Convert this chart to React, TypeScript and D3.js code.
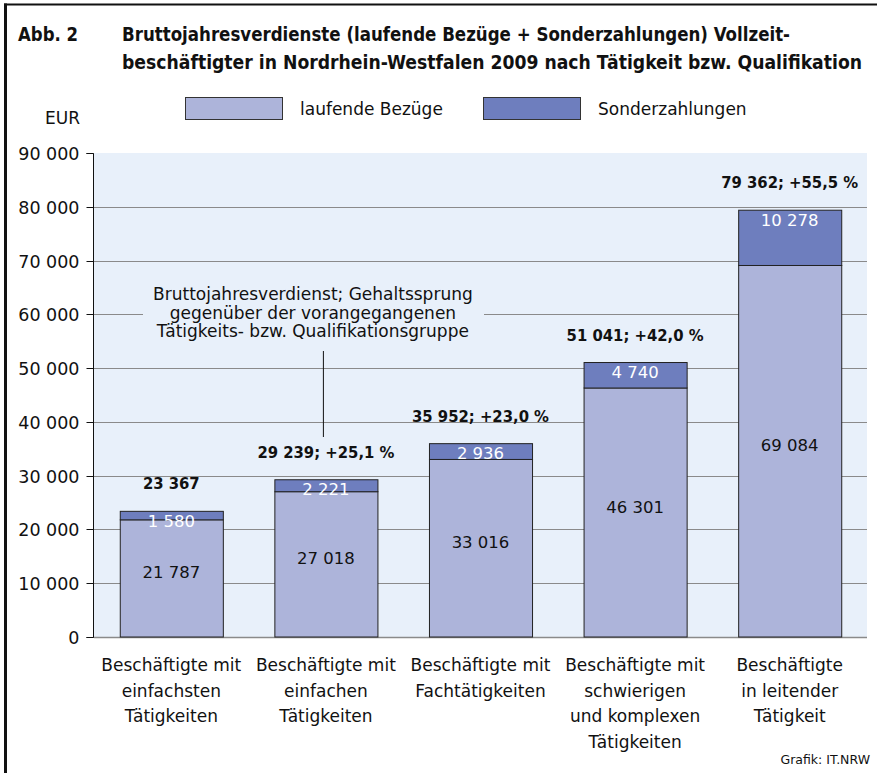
import { useEffect, useRef } from 'react'
import * as d3 from 'd3'

const categories = [
  ['Beschäftigte mit', 'einfachsten', 'Tätigkeiten'],
  ['Beschäftigte mit', 'einfachen', 'Tätigkeiten'],
  ['Beschäftigte mit', 'Fachtätigkeiten'],
  ['Beschäftigte mit', 'schwierigen', 'und komplexen', 'Tätigkeiten'],
  ['Beschäftigte', 'in leitender', 'Tätigkeit'],
]
const laufendeBezuege = [21787, 27018, 33016, 46301, 69084]
const sonderzahlungen = [1580, 2221, 2936, 4740, 10278]
const totals = [23367, 29239, 35952, 51041, 79362]
const gehaltssprung = [null, 25.1, 23.0, 42.0, 55.5]
const yTicks = [0, 10000, 20000, 30000, 40000, 50000, 60000, 70000, 80000, 90000]
const titleLines = [
  'Bruttojahresverdienste (laufende Bezüge + Sonderzahlungen) Vollzeit-',
  'beschäftigter in Nordrhein-Westfalen 2009 nach Tätigkeit bzw. Qualifikation',
]
const annotationLines = [
  'Bruttojahresverdienst; Gehaltssprung',
  'gegenüber der vorangegangenen',
  'Tätigkeits- bzw. Qualifikationsgruppe',
]

const FONT = '"DejaVu Sans", "Open Sans", sans-serif'
const FONT_COND = '"DejaVu Sans Condensed", "DejaVu Sans", sans-serif'
const COL_LIGHT = '#adb4da'
const COL_DARK = '#6e7ebe'
const COL_BG = '#e8f0fa'
const COL_GRID = '#8a8a8a'

const de = d3.formatLocale({ decimal: ',', thousands: ' ', grouping: [3], currency: ['', ' €'] })
const fmtInt = de.format(',d')
const fmtPct = de.format('.1f')

export default function App() {
  const svgRef = useRef<SVGSVGElement>(null)

  useEffect(() => {
    if (!svgRef.current) return
    const svg = d3.select(svgRef.current)
    svg.selectAll('*').remove()

    const W = 877
    const H = 773
    const plot = { left: 94, right: 867, top: 153, bottom: 637 }

    svg.attr('width', W).attr('height', H)

    // frame: top + left rule
    svg.append('line')
      .attr('x1', 4).attr('x2', W).attr('y1', 4.5).attr('y2', 4.5)
      .style('stroke', '#111').style('stroke-width', 2)
    svg.append('line')
      .attr('x1', 5.5).attr('x2', 5.5).attr('y1', 3.5).attr('y2', H)
      .style('stroke', '#111').style('stroke-width', 3)

    // title
    svg.append('text')
      .attr('x', 18).attr('y', 41)
      .attr('textLength', 60).attr('lengthAdjust', 'spacingAndGlyphs')
      .style('font-family', FONT_COND)
      .style('font-weight', 'bold').style('font-size', '19px').style('fill', '#111')
      .text('Abb. 2')
    const titleWidths = [668, 740]
    titleLines.forEach((t, i) => {
      svg.append('text')
        .attr('x', 122).attr('y', 41 + i * 28)
        .attr('textLength', titleWidths[i]).attr('lengthAdjust', 'spacingAndGlyphs')
        .style('font-family', FONT_COND)
        .style('font-weight', 'bold').style('font-size', '19px').style('fill', '#111')
        .text(t)
    })

    // legend
    const legend = [
      { label: 'laufende Bezüge', color: COL_LIGHT, x: 185 },
      { label: 'Sonderzahlungen', color: COL_DARK, x: 483 },
    ]
    legend.forEach(l => {
      svg.append('rect')
        .attr('x', l.x + 0.5).attr('y', 97.5).attr('width', 97).attr('height', 22)
        .style('fill', l.color).style('stroke', '#333').style('stroke-width', 1)
      svg.append('text')
        .attr('x', l.x + 115).attr('y', 115)
        .style('font-family', FONT).style('font-size', '17px').style('fill', '#111')
        .text(l.label)
    })

    // scales
    const x = d3.scaleBand<number>()
      .domain(d3.range(categories.length))
      .range([plot.left, plot.right])
      .paddingInner(1 / 3)
      .paddingOuter(1 / 6)
    const y = d3.scaleLinear()
      .domain([0, 90000])
      .range([plot.bottom, plot.top])

    // plot background
    svg.append('rect')
      .attr('x', plot.left).attr('y', plot.top)
      .attr('width', plot.right - plot.left).attr('height', plot.bottom - plot.top)
      .style('fill', COL_BG)

    // gridlines
    svg.append('g').selectAll('line')
      .data(yTicks.filter(d => d > 0 && d < 90000))
      .enter().append('line')
      .attr('x1', plot.left).attr('x2', plot.right)
      .attr('y1', d => Math.round(y(d)) + 0.5).attr('y2', d => Math.round(y(d)) + 0.5)
      .style('stroke', COL_GRID).style('stroke-width', 1)
    svg.append('line')
      .attr('x1', plot.left).attr('x2', plot.right)
      .attr('y1', y(0) + 0.5).attr('y2', y(0) + 0.5)
      .style('stroke', COL_GRID).style('stroke-width', 1.5)

    // y axis
    const yAxis = svg.append('g')
      .attr('transform', `translate(${plot.left - 0.5},0)`)
      .call(d3.axisLeft(y).tickValues(yTicks).tickSize(7).tickPadding(7).tickFormat(d => fmtInt(d as number)))
    yAxis.select('.domain').attr('d', `M-7,${y(90000) + 0.5}H0V${y(0) + 0.5}H-7`).style('stroke', '#111')
    yAxis.selectAll('.tick line').style('stroke', '#111')
    yAxis.selectAll('.tick text')
      .style('font-family', FONT).style('font-size', '17.5px').style('fill', '#111')
      .attr('dy', '0.36em')
    yAxis.selectAll('.tick').attr('transform', (d: any) => `translate(0,${Math.round(y(d)) + 0.5})`)

    svg.append('text')
      .attr('x', 80).attr('y', 124).attr('text-anchor', 'end')
      .style('font-family', FONT).style('font-size', '17px').style('fill', '#111')
      .text('EUR')

    // annotation (drawn before bars so bg cuts the gridline)
    const annCx = x(1)! + x.bandwidth() / 2 - 13
    svg.append('rect')
      .attr('x', 143).attr('y', 284).attr('width', 341).attr('height', 58)
      .style('fill', COL_BG)
    annotationLines.forEach((t, i) => {
      svg.append('text')
        .attr('x', annCx).attr('y', 300 + i * 18.5)
        .attr('text-anchor', 'middle')
        .style('font-family', FONT).style('font-size', '17px').style('fill', '#111')
        .text(t)
    })
    svg.append('line')
      .attr('x1', x(1)! + x.bandwidth() / 2 - 2.5).attr('x2', x(1)! + x.bandwidth() / 2 - 2.5)
      .attr('y1', 351).attr('y2', 437)
      .style('stroke', '#111').style('stroke-width', 1)

    // bars
    const bars = svg.append('g').selectAll('g')
      .data(d3.range(categories.length))
      .enter().append('g')

    bars.append('rect')
      .attr('x', i => x(i)! + 0.5)
      .attr('y', i => y(laufendeBezuege[i]))
      .attr('width', x.bandwidth())
      .attr('height', i => y(0) - y(laufendeBezuege[i]))
      .style('fill', COL_LIGHT).style('stroke', '#222').style('stroke-width', 1)
    bars.append('rect')
      .attr('x', i => x(i)! + 0.5)
      .attr('y', i => y(laufendeBezuege[i] + sonderzahlungen[i]))
      .attr('width', x.bandwidth())
      .attr('height', i => y(laufendeBezuege[i]) - y(laufendeBezuege[i] + sonderzahlungen[i]))
      .style('fill', COL_DARK).style('stroke', '#222').style('stroke-width', 1)

    // value labels
    bars.append('text')
      .attr('x', i => x(i)! + x.bandwidth() / 2)
      .attr('y', i => (y(0) + y(laufendeBezuege[i])) / 2)
      .attr('text-anchor', 'middle')
      .style('font-family', FONT).style('font-size', '16.5px').style('fill', '#111')
      .text(i => fmtInt(laufendeBezuege[i]))
    bars.append('text')
      .attr('x', i => x(i)! + x.bandwidth() / 2)
      .attr('y', i => y(laufendeBezuege[i] + sonderzahlungen[i]) + 15.5)
      .attr('text-anchor', 'middle')
      .style('font-family', FONT).style('font-size', '16.5px').style('fill', '#fff')
      .text(i => fmtInt(sonderzahlungen[i]))
    bars.append('text')
      .attr('x', i => x(i)! + x.bandwidth() / 2)
      .attr('y', i => y(totals[i]) - 22)
      .attr('text-anchor', 'middle')
      .style('font-family', FONT_COND).style('font-size', '16.5px').style('font-weight', 'bold').style('fill', '#111')
      .text(i => gehaltssprung[i] == null
        ? fmtInt(totals[i])
        : `${fmtInt(totals[i])}; +${fmtPct(gehaltssprung[i] as number)} %`)

    // category labels
    bars.each(function (i) {
      const g = d3.select(this)
      categories[i].forEach((line, k) => {
        g.append('text')
          .attr('x', x(i)! + x.bandwidth() / 2)
          .attr('y', 671 + k * 25.5)
          .attr('text-anchor', 'middle')
          .style('font-family', FONT).style('font-size', '17px').style('fill', '#111')
          .text(line)
      })
    })

    // source
    svg.append('text')
      .attr('x', 870).attr('y', 764).attr('text-anchor', 'end')
      .style('font-family', FONT).style('font-size', '12.5px').style('fill', '#111')
      .text('Grafik: IT.NRW')
  }, [])

  return (
    <svg
      ref={svgRef}
      style={{ position: 'absolute', left: 0, top: 0, display: 'block', background: '#fff' }}
    />
  )
}
